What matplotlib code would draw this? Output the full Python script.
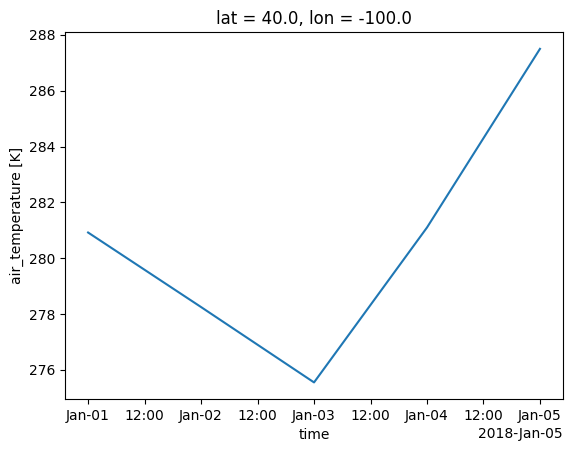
import numpy as np
import matplotlib
matplotlib.use("Agg")
import matplotlib.pyplot as plt
import matplotlib.dates as mdates

times = np.array(["2018-01-01", "2018-01-02", "2018-01-03", "2018-01-04", "2018-01-05"], dtype="datetime64[ns]")
air = [280.92, 278.25, 275.55, 281.1, 287.5]

fig = plt.figure(figsize=(5.72, 4.53), dpi=100)
ax = fig.add_axes([0.1145, 0.119, 0.869, 0.81])
ax.plot(times, air, color="#1f77b4")

loc = mdates.HourLocator(byhour=[0, 12])
ax.xaxis.set_major_locator(loc)
ax.xaxis.set_major_formatter(mdates.ConciseDateFormatter(loc))
ax.set_xlabel("time")
ax.set_ylabel("air_temperature [K]")
ax.set_title("lat = 40.0, lon = -100.0")

fig.savefig("out.png", dpi=100)
